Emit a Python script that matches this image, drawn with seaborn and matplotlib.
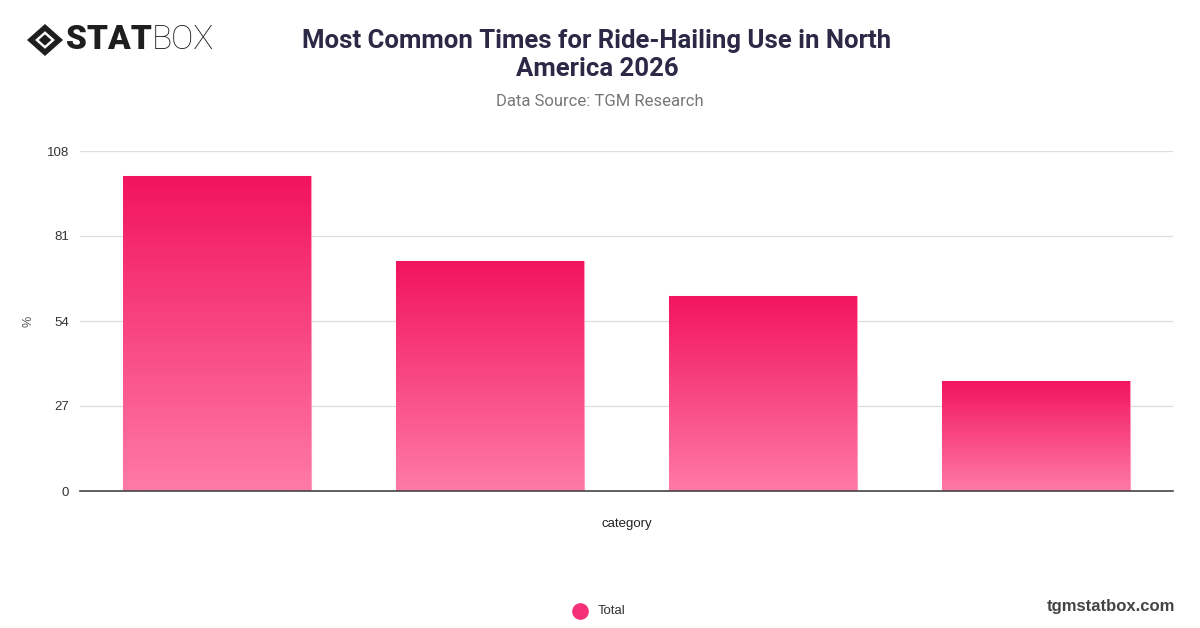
import numpy as np
import pandas as pd
import seaborn as sns
import matplotlib.pyplot as plt
from matplotlib.colors import LinearSegmentedColormap
from matplotlib.patches import Polygon

# chart data (category names are not shown on the reference)
categories = ["Time 1", "Time 2", "Time 3", "Time 4"]
values = [100, 73, 62, 35]
y_ticks = [0, 27, 54, 81, 108]

title = "Most Common Times for Ride-Hailing Use in North\nAmerica 2026"
subtitle = "Data Source: TGM Research"

df = pd.DataFrame({"category": categories, "value": values})

sns.set_theme(style="white")
plt.rcParams["font.family"] = ["Liberation Sans", "DejaVu Sans"]

fig = plt.figure(figsize=(12, 6.28), dpi=100)
ax = fig.add_axes([80 / 1200, 1 - 491 / 628, 1093 / 1200, 340 / 628])

sns.barplot(data=df, x="category", y="value", color="#f5276c", width=0.688,
            edgecolor="#ff9cc0", linewidth=0.8, ax=ax, zorder=2)

# vertical gradient in each bar
grad = LinearSegmentedColormap.from_list("pinkgrad", ["#ff7aa8", "#f2145e"])
ramp = np.linspace(0, 1, 256).reshape(-1, 1)
for bar in ax.patches:
    x0, w, h = bar.get_x(), bar.get_width(), bar.get_height()
    im = ax.imshow(ramp, cmap=grad, origin="lower", aspect="auto",
                   extent=[x0, x0 + w, 0, h], zorder=2.5)
    im.set_clip_path(bar)

ax.set_xlim(-0.5, len(categories) - 0.5)
ax.set_ylim(0, 108)
ax.set_yticks(y_ticks)
ax.set_yticklabels([str(t) for t in y_ticks], fontsize=9.5, color="#333333")
ax.set_xticks(range(len(categories)))
ax.set_xticklabels([])
ax.tick_params(axis="both", length=0, pad=8)
ax.yaxis.grid(True, color="#dddddd", linewidth=0.9, zorder=0)
ax.set_axisbelow(True)
for s in ["top", "right", "left"]:
    ax.spines[s].set_visible(False)
ax.spines["bottom"].set_color("#444444")
ax.spines["bottom"].set_linewidth(1.2)
ax.set_xlabel("category", fontsize=9.5, color="#222222", va="center")
ax.xaxis.set_label_coords(0.5, -(524 - 491) / 340)
ax.set_ylabel("%", fontsize=9, color="#555555", va="center")
ax.yaxis.set_label_coords(-(80 - 28) / 1093, 0.5)

# title block
fig.text(597 / 1200, 1 - 55 / 628, title, ha="center", va="center",
         fontsize=18.5, fontweight="bold", color="#2b2946", linespacing=1.2,
         family=["Roboto", "DejaVu Sans"])
fig.text(600 / 1200, 1 - 101 / 628, subtitle, ha="center", va="center",
         fontsize=12, color="#777777", family=["Roboto", "DejaVu Sans"])

# logo
lx, ly = 45 / 1200, 1 - 40 / 628
sx, sy = 18 / 1200, 16 / 628
outer = Polygon([[lx - sx, ly], [lx, ly + sy], [lx + sx, ly], [lx, ly - sy]],
                closed=True, facecolor="#1e1e1e", edgecolor="none",
                transform=fig.transFigure)
inner = Polygon([[lx - sx * 0.55, ly], [lx, ly + sy * 0.55], [lx + sx * 0.55, ly],
                 [lx, ly - sy * 0.55]], closed=True, facecolor="white",
                edgecolor="none", transform=fig.transFigure)
core = Polygon([[lx - sx * 0.35, ly], [lx, ly + sy * 0.35], [lx + sx * 0.35, ly],
                [lx, ly - sy * 0.35]], closed=True, facecolor="#1e1e1e",
               edgecolor="none", transform=fig.transFigure)
for p in (outer, inner, core):
    fig.add_artist(p)
fig.text(66 / 1200, ly, "STAT", ha="left", va="center", fontsize=24,
         fontweight="black", color="#1e1e1e", family=["Roboto", "DejaVu Sans"])
fig.text(152 / 1200, ly, "BOX", ha="left", va="center", fontsize=24,
         fontweight="light", color="#1e1e1e", family=["Roboto", "DejaVu Sans"])

# legend
fig.add_artist(plt.Line2D([580 / 1200], [1 - 611 / 628], marker="o",
                          markersize=11, color="#f5307a", linestyle="none",
                          transform=fig.transFigure))
fig.text(598 / 1200, 1 - 611 / 628, "Total", ha="left", va="center",
         fontsize=9.5, color="#333333")

fig.text(1175 / 1200, 1 - 606 / 628, "tgmstatbox.com", ha="right", va="center",
         fontsize=12, fontweight="bold", color="#444444")

plt.savefig("out.png", dpi=100)
